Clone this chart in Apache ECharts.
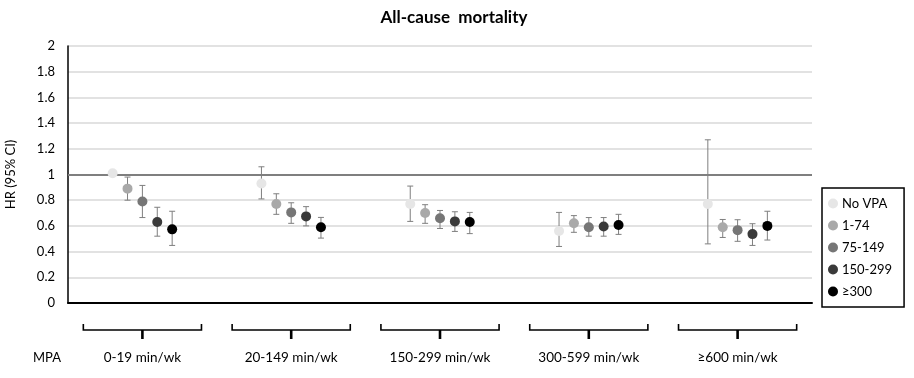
<!DOCTYPE html>
<html>
<head>
<meta charset="utf-8">
<script src="https://cdn.jsdelivr.net/npm/echarts@6/dist/echarts.min.js"></script>
<style>html,body{margin:0;padding:0;background:#fff}#c{width:914px;height:378px}</style>
</head>
<body>
<div id="c"></div>
<script>
const categories = ['0-19 min/wk', '20-149 min/wk', '150-299 min/wk', '300-599 min/wk', '≥600 min/wk'];
const seriesNames = ['No VPA', '1-74', '75-149', '150-299', '≥300'];
const seriesColors = ['#e6e6e6', '#a9a9a9', '#767676', '#3a3a3a', '#000000'];
const yTicks = [0, 0.2, 0.4, 0.6, 0.8, 1, 1.2, 1.4, 1.6, 1.8, 2];

const noVpaHR    = [1.01, 0.93, 0.77, 0.56, 0.77];
const noVpaLow   = [null, 0.81, 0.635, 0.44, 0.46];
const noVpaHigh  = [null, 1.06, 0.91, 0.705, 1.27];

const vpa1HR     = [0.89, 0.77, 0.70, 0.62, 0.59];
const vpa1Low    = [0.80, 0.69, 0.62, 0.55, 0.51];
const vpa1High   = [0.98, 0.85, 0.765, 0.68, 0.65];

const vpa75HR    = [0.79, 0.705, 0.66, 0.59, 0.567];
const vpa75Low   = [0.665, 0.62, 0.58, 0.52, 0.48];
const vpa75High  = [0.915, 0.78, 0.72, 0.665, 0.648];

const vpa150HR   = [0.63, 0.674, 0.635, 0.596, 0.536];
const vpa150Low  = [0.52, 0.60, 0.557, 0.52, 0.448];
const vpa150High = [0.745, 0.75, 0.71, 0.665, 0.617];

const vpa300HR   = [0.573, 0.59, 0.63, 0.607, 0.60];
const vpa300Low  = [0.448, 0.505, 0.54, 0.534, 0.49];
const vpa300High = [0.714, 0.666, 0.705, 0.69, 0.714];

const hrSets   = [noVpaHR, vpa1HR, vpa75HR, vpa150HR, vpa300HR];
const lowSets  = [noVpaLow, vpa1Low, vpa75Low, vpa150Low, vpa300Low];
const highSets = [noVpaHigh, vpa1High, vpa75High, vpa150High, vpa300High];

const FONT = 'Lato';

function makeRender(k) {
  return function (params, api) {
    const cat = api.value(0), hr = api.value(1), lo = api.value(2), hi = api.value(3);
    const band = api.size([1, 0])[0];
    const off = (k - 2) * band * 0.1;
    const p = api.coord([cat, hr]);
    const x = p[0] + off;
    const children = [];
    if (isFinite(lo) && isFinite(hi)) {
      const yl = api.coord([cat, lo])[1];
      const yh = api.coord([cat, hi])[1];
      const es = { stroke: '#7f7f7f', lineWidth: 1 };
      children.push({ type: 'line', shape: { x1: x, y1: yl, x2: x, y2: yh }, style: es });
      children.push({ type: 'line', shape: { x1: x - 3, y1: yl, x2: x + 3, y2: yl }, style: es });
      children.push({ type: 'line', shape: { x1: x - 3, y1: yh, x2: x + 3, y2: yh }, style: es });
    }
    children.push({ type: 'circle', shape: { cx: x, cy: p[1], r: 5 }, style: { fill: seriesColors[k] } });
    return { type: 'group', children: children };
  };
}

const pointSeries = seriesNames.map(function (name, k) {
  return {
    name: name,
    type: 'custom',
    z: 5,
    itemStyle: { color: seriesColors[k] },
    encode: { x: 0, y: 1 },
    renderItem: makeRender(k),
    data: categories.map(function (c, i) {
      const lo = lowSets[k][i], hi = highSets[k][i];
      return [i, hrSets[k][i], lo === null ? NaN : lo, hi === null ? NaN : hi];
    })
  };
});

const bracketSeries = {
  name: 'brackets',
  type: 'custom',
  z: 2,
  silent: true,
  clip: false,
  encode: { x: 0, y: 1 },
  renderItem: function (params, api) {
    const cat = api.value(0);
    const p = api.coord([cat, 0]);
    const band = api.size([1, 0])[0];
    const hw = band * 0.397;
    const st = { stroke: '#000', lineWidth: 1.6, fill: null };
    return {
      type: 'group',
      children: [
        { type: 'polyline', shape: { points: [[p[0] - hw, p[1] + 21], [p[0] - hw, p[1] + 27], [p[0] + hw, p[1] + 27], [p[0] + hw, p[1] + 21]] }, style: st },
        { type: 'line', shape: { x1: p[0], y1: p[1] + 27, x2: p[0], y2: p[1] + 36 }, style: { stroke: '#000', lineWidth: 2.6 } }
      ]
    };
  },
  data: categories.map(function (c, i) { return [i, 0]; }),
  markLine: {
    silent: true,
    symbol: 'none',
    label: { show: false },
    lineStyle: { color: '#7f7f7f', width: 2, type: 'solid' },
    data: [{ yAxis: 1 }]
  }
};

const chart = echarts.init(document.getElementById('c'), null, { renderer: 'canvas' });
chart.setOption({
  animation: false,
  backgroundColor: '#fff',
  textStyle: { fontFamily: FONT },
  title: {
    text: 'All-cause  mortality',
    left: 449,
    top: 4,
    textAlign: 'center',
    textStyle: { fontFamily: FONT, fontWeight: 'bold', fontSize: 17, color: '#000' }
  },
  grid: { left: 68, right: 102, top: 46, bottom: 75, containLabel: false, outerBoundsMode: 'none' },
  legend: {
    data: seriesNames,
    orient: 'vertical',
    left: 822,
    top: 188,
    icon: 'circle',
    itemWidth: 10,
    itemHeight: 10,
    itemGap: 7,
    padding: [8, 12, 8, 6],
    borderColor: '#000',
    borderWidth: 1.5,
    textStyle: { fontFamily: FONT, fontSize: 13, color: '#000', lineHeight: 15, padding: [0, 0, 0, -1] }
  },
  graphic: [{
    type: 'text',
    left: 33,
    top: 351,
    style: { text: 'MPA', fontFamily: FONT, fontSize: 13, fill: '#000' }
  }],
  xAxis: {
    type: 'category',
    data: categories,
    boundaryGap: true,
    axisLine: { show: true, lineStyle: { color: '#000', width: 2 } },
    axisTick: { show: false },
    axisLabel: { margin: 48, fontFamily: FONT, fontSize: 13.5, color: '#000' },
    splitLine: { show: false }
  },
  yAxis: {
    type: 'value',
    min: yTicks[0],
    max: yTicks[yTicks.length - 1],
    interval: 0.2,
    name: 'HR (95% CI)',
    nameLocation: 'middle',
    nameGap: 51,
    nameRotate: 90,
    nameTextStyle: { fontFamily: FONT, fontSize: 13, color: '#000' },
    axisLine: { show: true, lineStyle: { color: '#000', width: 1.5 } },
    axisTick: { show: false },
    axisLabel: { margin: 13, fontFamily: FONT, fontSize: 13, color: '#000',
      formatter: function (v) { return String(Math.round(v * 10) / 10); } },
    splitLine: { show: true, lineStyle: { color: '#d9d9d9', width: 1.5 } }
  },
  series: [bracketSeries].concat(pointSeries)
});
</script>
</body>
</html>
